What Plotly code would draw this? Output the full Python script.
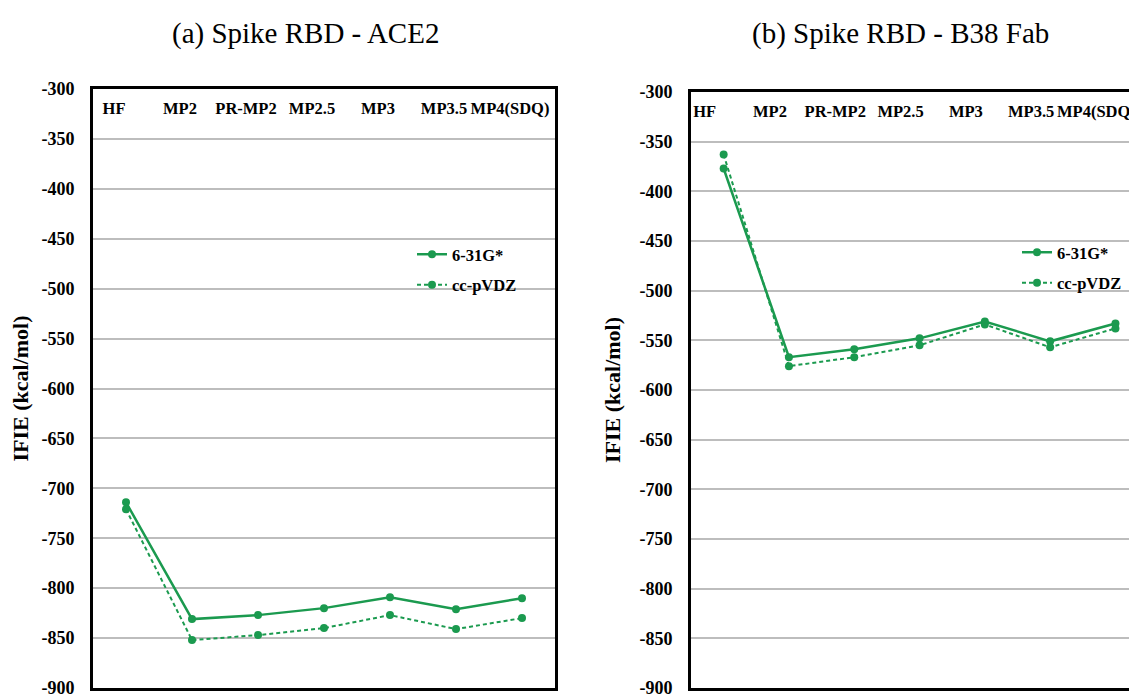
import plotly.graph_objects as go

# ---- data ----
methods = ["HF", "MP2", "PR-MP2", "MP2.5", "MP3", "MP3.5", "MP4(SDQ)"]
ace2_631g = [-714, -831, -827, -820, -809, -821, -810]
ace2_ccpvdz = [-721, -852, -847, -840, -827, -841, -830]
b38_631g = [-377, -567, -559, -548, -531, -551, -533]
b38_ccpvdz = [-363, -576, -567, -555, -534, -557, -538]
y_ticks = list(range(-900, -299, 50))
y_tick_text = [str(v) for v in y_ticks]

GREEN = "#1b9a4f"
SERIF = "Liberation Serif, Times New Roman, serif"
W, H = 1137, 695
OFF = 8  # page margin the figure sits in

fig = go.Figure()

def add_pair(xa, ya, leg, solid, dashed):
    fig.add_trace(go.Scatter(
        x=methods, y=solid, name="6-31G*", xaxis=xa, yaxis=ya, legend=leg,
        legendgroup="a" + leg, mode="lines+markers",
        line=dict(color=GREEN, width=2.5), marker=dict(size=8, color=GREEN),
        cliponaxis=False))
    fig.add_trace(go.Scatter(
        x=methods, y=dashed, name="cc-pVDZ", xaxis=xa, yaxis=ya, legend=leg,
        legendgroup="b" + leg, mode="lines+markers",
        line=dict(color=GREEN, width=2, dash="4px,3px"), marker=dict(size=8, color=GREEN),
        cliponaxis=False))

add_pair("x", "y", "legend", ace2_631g, ace2_ccpvdz)
add_pair("x2", "y2", "legend2", b38_631g, b38_ccpvdz)

def xax(domain, rng, anchor, shift):
    return dict(domain=domain, range=rng, anchor=anchor, type="category", side="top",
                ticklabelposition="inside", ticklabelstandoff=14, ticklabelshift=shift,
                ticks="", ticklabeloverflow="allow", automargin=False,
                tickfont=dict(family=SERIF, size=16.5, color="black", weight="bold"),
                showgrid=False, zeroline=False, showline=True, linecolor="black",
                linewidth=3, mirror=True, fixedrange=True)

def yax(domain, anchor, mirror):
    return dict(domain=domain, anchor=anchor, range=[-900, -300],
                tickvals=y_ticks, ticktext=y_tick_text,
                ticks="", ticklabelstandoff=12, automargin=False,
                tickfont=dict(family=SERIF, size=18, color="black", weight="bold"),
                showgrid=True, gridcolor="#bdbdbd", gridwidth=2, zeroline=False,
                showline=True, linecolor="black", linewidth=3, mirror=mirror,
                title=dict(text="IFIE (kcal/mol)", standoff=13,
                           font=dict(family=SERIF, size=22, color="black", weight="bold")),
                fixedrange=True)

def px_x(v):
    return (v - OFF) / W

def px_y(v):
    return (H - (v - OFF)) / H

left_dom = [px_x(93), px_x(555)]
right_dom = [px_x(691), 1.0]
right_span = (W + OFF - 691) / 65.3

fig.update_layout(
    template="none",
    width=W, height=H, margin=dict(l=0, r=0, t=0, b=0, pad=0),
    paper_bgcolor="white", plot_bgcolor="white",
    xaxis=xax(left_dom, [-0.5, 6.5], "y", -12),
    yaxis=yax([px_y(688), px_y(89)], "x", True),
    xaxis2=xax(right_dom, [-0.5, -0.5 + right_span], "y2", -19),
    yaxis2=yax([px_y(688), px_y(92)], "x2", False),
    legend=dict(x=px_x(412), y=px_y(237), xanchor="left", yanchor="top",
                bgcolor="rgba(0,0,0,0)", borderwidth=0, tracegroupgap=6, traceorder="grouped",
                font=dict(family=SERIF, size=16.5, color="black", weight="bold")),
    legend2=dict(x=px_x(1017), y=px_y(235), xanchor="left", yanchor="top",
                 bgcolor="rgba(0,0,0,0)", borderwidth=0, tracegroupgap=6, traceorder="grouped",
                 font=dict(family=SERIF, size=16.5, color="black", weight="bold")),
    annotations=[
        dict(text="(a) Spike RBD - ACE2", x=px_x(305), y=px_y(33), xref="paper", yref="paper",
             showarrow=False, xanchor="center", yanchor="middle",
             font=dict(family=SERIF, size=29, color="black")),
        dict(text="(b) Spike RBD - B38 Fab", x=px_x(900), y=px_y(33), xref="paper", yref="paper",
             showarrow=False, xanchor="center", yanchor="middle",
             font=dict(family=SERIF, size=29, color="black")),
    ],
    showlegend=True,
)

fig.write_html("out.html")
